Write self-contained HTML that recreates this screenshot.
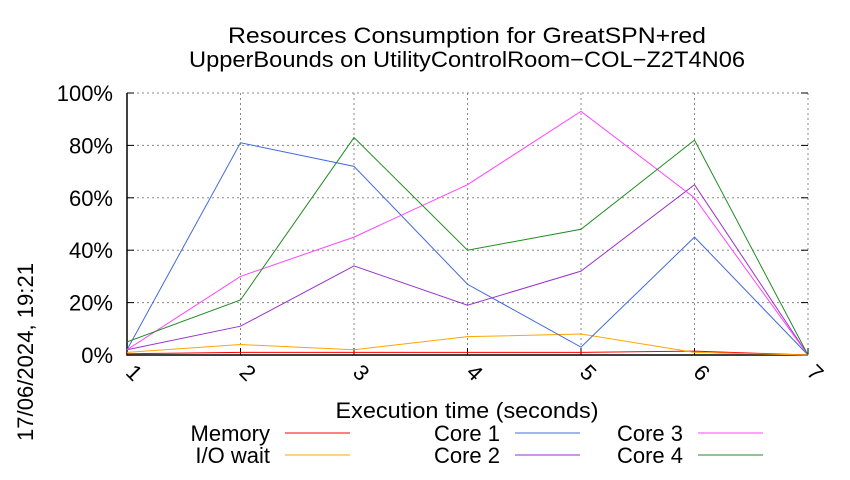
<!DOCTYPE html>
<html><head><meta charset="utf-8"><style>
body{margin:0;background:#fff}
svg text{font-family:"Liberation Sans",sans-serif;fill:#000}
</style></head><body>
<svg width="850" height="475">
<g id="grid"></g><g id="axes"></g><g id="series"></g><g id="legend"></g>
<text x="467" y="43" font-size="22" text-anchor="middle" textLength="478" lengthAdjust="spacingAndGlyphs">Resources Consumption for GreatSPN+red</text>
<text x="467" y="67" font-size="22" text-anchor="middle" textLength="556" lengthAdjust="spacingAndGlyphs">UpperBounds on UtilityControlRoom−COL−Z2T4N06</text>
<text x="467" y="418" font-size="22" text-anchor="middle" textLength="263" lengthAdjust="spacingAndGlyphs">Execution time (seconds)</text>
<text transform="translate(33,352) rotate(-90)" font-size="22" text-anchor="middle" textLength="178" lengthAdjust="spacingAndGlyphs">17/06/2024, 19:21</text>
</svg>
<script>
const xCats=[1,2,3,4,5,6,7];
const yTicks=[0,20,40,60,80,100];
const memory=[0.5,1,1,1,1,1.5,0];
const ioWait=[1,4,2,7,8,1,0];
const core1=[2,81,72,27,3,45,0];
const core2=[2,11,34,19,32,65,0];
const core3=[2,30,45,65,93,60,0];
const core4=[5,21,83,40,48,82,0];
const seriesNames=["Memory","I/O wait","Core 1","Core 2","Core 3","Core 4"];
const seriesData=[memory,ioWait,core1,core2,core3,core4];
const colors=["#ff0000","#ffa500","#4169e1","#9932cc","#ff44ff","#228b22"];
const X0=127,X1=808,Y0=355,Y1=93;
const xs=v=>X0+(v-1)*(X1-X0)/6, ys=v=>Y0-v*(Y0-Y1)/100;
const NS="http://www.w3.org/2000/svg";
function mk(p,t,a){const e=document.createElementNS(NS,t);for(const k in a)e.setAttribute(k,a[k]);document.getElementById(p).appendChild(e);return e;}
yTicks.forEach(t=>{const y=ys(t);
 const g=mk('grid','line',{x1:X0,x2:X1,y1:y,y2:y,stroke:'#888','stroke-dasharray':'2,3','stroke-width':1});
 
 
 mk('axes','line',{x1:X0,x2:X0+7,y1:y,y2:y,stroke:'#000'});
 mk('axes','line',{x1:X1-7,x2:X1,y1:y,y2:y,stroke:'#000'});
 const tx=mk('axes','text',{x:X0-14,y:y+8,'font-size':22,'text-anchor':'end'});tx.textContent=t+'%';
 
 
});
xCats.forEach(c=>{const x=xs(c);
 const g=mk('grid','line',{x1:x,x2:x,y1:Y1,y2:Y0,stroke:'#888','stroke-dasharray':'2,3'});
 
 
 mk('axes','line',{x1:x,x2:x,y1:Y0,y2:Y0-7,stroke:'#000'});
 const tx=mk('axes','text',{transform:`translate(${x+2},${Y0+23}) rotate(45)`,'font-size':22,'text-anchor':'middle'});tx.textContent=c;
 
 
});
const ax=mk('axes','path',{d:`M${X0},${Y1}V${Y0}H${X1}`,fill:'none',stroke:'#000','stroke-width':1.5});


const legPos=[[270,433],[270,455],[500,433],[500,455],[683,433],[683,455]];
seriesData.forEach((d,i)=>{
 const p=mk('series','polyline',{points:d.map((v,j)=>xs(xCats[j])+','+ys(v)).join(' '),fill:'none',stroke:colors[i],'stroke-width':1});
 
 
 const [lx,ly]=legPos[i];
 const t=mk('legend','text',{x:lx,y:ly+8,'font-size':22,'text-anchor':'end'});t.textContent=seriesNames[i];
 
 
 const l=mk('legend','line',{x1:lx+15,x2:lx+80,y1:ly,y2:ly,stroke:colors[i]});
 
 
});
</script>
</body></html>
